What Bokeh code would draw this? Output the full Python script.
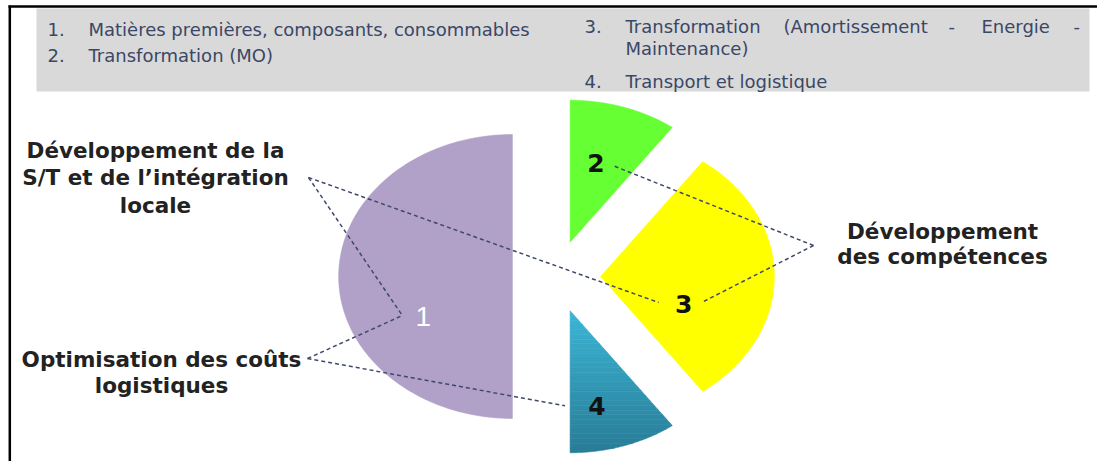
import numpy as np
from bokeh.plotting import figure
from bokeh.models import Range1d
from bokeh.core.properties import value
from bokeh.embed import file_html
from bokeh.resources import INLINE

# ---------------- data ----------------
slice_labels = ["1", "2", "3", "4"]
slice_values = [50, 10, 30, 10]
slice_colors = ["#B1A0C7", "#66FF33", "#FFFF00", "gradient"]
gradient_top = (59, 182, 214)
gradient_bottom = (40, 124, 150)

legend_numbers = ["1.", "2.", "3.", "4."]
legend_items = [
    "Matières premières, composants, consommables",
    "Transformation (MO)",
    "Transformation (Amortissement - Energie - Maintenance)",
    "Transport et logistique",
]

annot_a = ["Développement de la", "S/T et de l’intégration", "locale"]
annot_b = ["Optimisation des coûts", "logistiques"]
annot_c = ["Développement", "des compétences"]

# ---------------- layout ----------------
W, H = 1097, 461
S = 1.224           # horizontal stretch of the pie (ellipse)


def U(x):           # picture x -> data x
    return x


def V(y):           # picture y -> data y
    return y


p = figure(width=W, height=H, x_range=Range1d(0, W), y_range=Range1d(H, 0),
           output_backend="svg", toolbar_location=None, min_border=0,
           x_axis_location=None, y_axis_location=None,
           outline_line_color=None, background_fill_color="white",
           border_fill_color="white")
p.grid.visible = False

# legend box
p.quad(left=[U(36)], right=[U(1089)], top=[V(8)], bottom=[V(91)],
       fill_color="#D9D9D9", line_color=None)

# ---------------- pie geometry ----------------
cx, cy = U(556), V(276)
R = 142.0
EXPLODE = 36.0
start = -90.0
total = float(sum(slice_values))
label_off = [28.8, 3.0, -22.4, -5.0]
label_frac = [0.585, 0.576, 0.517, 0.687]

apexes, mids, polys = [], [], []
a0 = start
for v in slice_values:
    a1 = a0 - 360.0 * v / total
    mid = np.radians((a0 + a1) / 2)
    ax = cx + S * EXPLODE * np.cos(mid)
    ay = cy - EXPLODE * np.sin(mid)
    th = np.radians(np.linspace(a0, a1, 120))
    xs = [ax] + list(ax + S * R * np.cos(th))
    ys = [ay] + list(ay - R * np.sin(th))
    apexes.append((ax, ay))
    mids.append(mid)
    polys.append((xs, ys))
    a0 = a1


def clip_band(xs, ys, y0, y1):
    pts = list(zip(xs, ys))

    def clip(pts, inside, inter):
        out = []
        for i in range(len(pts)):
            cur, prev = pts[i], pts[i - 1]
            if inside(cur):
                if not inside(prev):
                    out.append(inter(prev, cur))
                out.append(cur)
            elif inside(prev):
                out.append(inter(prev, cur))
        return out

    def inter_y(yc):
        def f(a, b):
            t = (yc - a[1]) / (b[1] - a[1])
            return (a[0] + t * (b[0] - a[0]), yc)
        return f

    pts = clip(pts, lambda q: q[1] >= y0, inter_y(y0))
    if pts:
        pts = clip(pts, lambda q: q[1] <= y1, inter_y(y1))
    return [q[0] for q in pts], [q[1] for q in pts]


for i, (xs, ys) in enumerate(polys):
    if slice_colors[i] != "gradient":
        p.patch(xs, ys, fill_color=slice_colors[i], line_color=slice_colors[i],
                line_width=0.5)
    else:
        ymin, ymax = min(ys), max(ys)
        nb = 30
        edges = np.linspace(ymin, ymax, nb + 1)
        bxs, bys, bcols = [], [], []
        for k in range(nb):
            bx, by = clip_band(xs, ys, edges[k], edges[k + 1])
            if len(bx) < 3:
                continue
            t = (k + 0.5) / nb
            c = tuple(int(round(gradient_top[j] + t * (gradient_bottom[j] - gradient_top[j])))
                      for j in range(3))
            col = "#%02X%02X%02X" % c
            bxs.append(bx); bys.append(by); bcols.append(col)
        p.patches(bxs, bys, fill_color=bcols, line_color=bcols, line_width=0.6)

# label positions
lab_pos = []
for i in range(len(slice_values)):
    ang = mids[i] + np.radians(label_off[i])
    ax, ay = apexes[i]
    lab_pos.append((ax + S * label_frac[i] * R * np.cos(ang),
                    ay - label_frac[i] * R * np.sin(ang)))

# ---------------- leader lines ----------------
hub_a = (U(308), V(177))
hub_b = (U(307), V(358))
hub_c = (U(813), V(245))


def near(i, dx, dy):
    return (lab_pos[i][0] + dx, lab_pos[i][1] + dy)


leaders = [
    (hub_a, near(0, -21, -1)), (hub_a, near(2, -25, -2)),
    (hub_b, near(0, -21, -1)), (hub_b, near(3, -32, 0)),
    (hub_c, near(1, 16, 2)), (hub_c, near(2, 20, -3)),
]
p.multi_line([[a[0], b[0]] for a, b in leaders], [[a[1], b[1]] for a, b in leaders],
             line_color="#3F4A6A", line_width=1.5, line_dash="4 3")

# slice labels
p.text([lab_pos[0][0]], [lab_pos[0][1]], text=[slice_labels[0]],
       text_align="center", text_baseline="middle", text_color="white",
       text_font=value("Liberation Sans"), text_font_size=value("28px"))
p.text([q[0] for q in lab_pos[1:]], [q[1] for q in lab_pos[1:]], text=slice_labels[1:],
       text_align="center", text_baseline="middle", text_color="#111111",
       text_font=value("DejaVu Sans"), text_font_size=value("25px"),
       text_font_style="bold")

# ---------------- legend texts ----------------
LEG_FONT = dict(text_font=value("DejaVu Sans"), text_font_size=value("18px"),
                text_color="#3A4766", text_align="left", text_baseline="middle")
num_x = [47, 47, 584, 584]
num_y = [29, 55, 26, 81]
p.text([U(x) for x in num_x], [V(y) for y in num_y], text=legend_numbers, **LEG_FONT)

simple = [0, 1, 3]
text_x = [88, 88, 625, 625]
p.text([U(text_x[i]) for i in simple], [V(num_y[i]) for i in simple],
       text=[legend_items[i] for i in simple], **LEG_FONT)

words = legend_items[2].split()
line1, line2 = words[:-1], words[-1:]
word_x = [625, 783, 948, 981, 1073]
p.text([U(x) for x in word_x], [V(26)] * len(line1), text=line1, **LEG_FONT)
p.text([U(625)], [V(48)], text=line2, **LEG_FONT)

# ---------------- annotations ----------------
ANN = dict(text_font=value("DejaVu Sans"), text_font_size=value("21.5px"),
           text_font_style="bold", text_color="#222222",
           text_align="center", text_baseline="middle")
p.text([U(155)] * 3, [V(y) for y in [150, 177, 205]], text=annot_a, **ANN)
p.text([U(161)] * 2, [V(y) for y in [359, 385]], text=annot_b, **ANN)
p.text([U(942)] * 2, [V(y) for y in [231, 256]], text=annot_c, **ANN)

# ---------------- frame lines ----------------
p.segment(x0=[U(8)], y0=[V(6)], x1=[W], y1=[V(6)], line_color="black", line_width=2.5)
p.segment(x0=[U(9.3)], y0=[V(5)], x1=[U(9.3)], y1=[H], line_color="black", line_width=2.5)

open("out.html", "w").write(file_html(p, INLINE))
